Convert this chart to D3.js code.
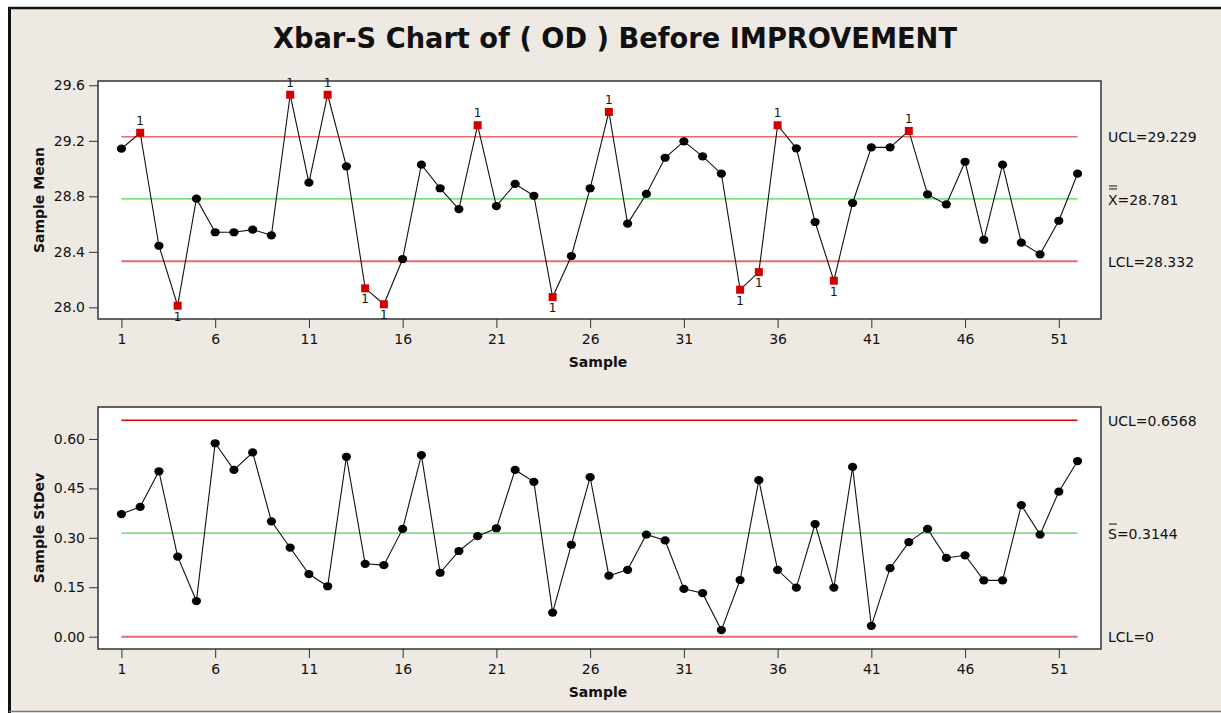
<!DOCTYPE html>
<html>
<head>
<meta charset="utf-8">
<script src="https://cdn.jsdelivr.net/npm/d3@7"></script>
<style>
  body { margin: 0; background: #fff; }
  text { font-family: "DejaVu Sans", Verdana, sans-serif; fill: #111; }
</style>
</head>
<body>
<svg width="1221" height="713"></svg>
<script>
// sample means (Xbar) and standard deviations (S), samples 1..52
var samples = d3.range(1, 53);
var means = [29.143, 29.258, 28.444, 28.012, 28.783, 28.541, 28.541, 28.560, 28.519, 29.532,
             28.898, 29.532, 29.016, 28.137, 28.022, 28.348, 29.028, 28.858, 28.708, 29.312,
             28.730, 28.889, 28.804, 28.074, 28.370, 28.858, 29.408, 28.603, 28.817, 29.078,
             29.196, 29.088, 28.963, 28.127, 28.254, 29.312, 29.146, 28.615, 28.192, 28.752,
             29.153, 29.153, 29.271, 28.814, 28.742, 29.049, 28.487, 29.028, 28.466, 28.382,
             28.624, 28.963];
var stdevs = [0.372, 0.394, 0.502, 0.243, 0.108, 0.587, 0.506, 0.559, 0.350, 0.270,
              0.190, 0.153, 0.546, 0.221, 0.217, 0.327, 0.551, 0.194, 0.260, 0.305,
              0.329, 0.506, 0.470, 0.073, 0.279, 0.484, 0.185, 0.203, 0.310, 0.292,
              0.145, 0.132, 0.020, 0.172, 0.475, 0.203, 0.149, 0.342, 0.149, 0.515,
              0.033, 0.208, 0.287, 0.327, 0.239, 0.247, 0.171, 0.171, 0.399, 0.310,
              0.440, 0.533];

var meanLimits = {ucl: 29.229, cl: 28.781, lcl: 28.332};
var sdLimits = {ucl: 0.6568, cl: 0.3144, lcl: 0};

var xTicks = [1, 6, 11, 16, 21, 26, 31, 36, 41, 46, 51];
var meanTicks = [28.0, 28.4, 28.8, 29.2, 29.6];
var sdTicks = [0.00, 0.15, 0.30, 0.45, 0.60];

var svg = d3.select("svg");

// frame
svg.append("rect").attr("x", 9).attr("y", 8).attr("width", 1212).attr("height", 703)
  .attr("fill", "#eee9e3");
svg.append("line").attr("x1", 8).attr("x2", 1221).attr("y1", 8).attr("y2", 8)
  .attr("stroke", "#111").attr("stroke-width", 2.5);
svg.append("line").attr("x1", 9.5).attr("x2", 9.5).attr("y1", 7).attr("y2", 713)
  .attr("stroke", "#111").attr("stroke-width", 3);
svg.append("line").attr("x1", 9).attr("x2", 1221).attr("y1", 711.5).attr("y2", 711.5)
  .attr("stroke", "#777").attr("stroke-width", 1.5);

svg.append("text")
  .attr("x", 615).attr("y", 48)
  .attr("text-anchor", "middle")
  .attr("font-size", 28).attr("font-weight", "bold")
  .attr("textLength", 684).attr("lengthAdjust", "spacingAndGlyphs")
  .text("Xbar-S Chart of ( OD ) Before IMPROVEMENT");

var x = d3.scaleLinear().domain([-0.25, 53.25]).range([98, 1101]);

function panel(opts) {
  var y = d3.scaleLinear().domain(opts.domain).range([opts.bottom, opts.top]);
  var g = svg.append("g");

  g.append("rect")
    .attr("x", x.range()[0]).attr("y", opts.top)
    .attr("width", x.range()[1] - x.range()[0]).attr("height", opts.bottom - opts.top)
    .attr("fill", "#fff").attr("stroke", "#333").attr("stroke-width", 1.5);

  // control lines
  var x0 = x(1), x1 = x(52);
  g.append("line").attr("x1", x0).attr("x2", x1)
    .attr("y1", y(opts.limits.ucl)).attr("y2", y(opts.limits.ucl))
    .attr("stroke", opts.uclColor).attr("stroke-width", 1.6);
  g.append("line").attr("x1", x0).attr("x2", x1)
    .attr("y1", y(opts.limits.cl)).attr("y2", y(opts.limits.cl))
    .attr("stroke", "#4fd24f").attr("stroke-width", 1.3);
  g.append("line").attr("x1", x0).attr("x2", x1)
    .attr("y1", y(opts.limits.lcl)).attr("y2", y(opts.limits.lcl))
    .attr("stroke", "#e86a6c").attr("stroke-width", 2);

  var pts = samples.map(function(s, i) {
    var v = opts.values[i];
    return {s: s, v: v, hi: v > opts.limits.ucl, lo: v < opts.limits.lcl};
  });

  g.append("path")
    .datum(pts)
    .attr("fill", "none").attr("stroke", "#111").attr("stroke-width", 1.1)
    .attr("d", d3.line().x(function(d) { return x(d.s); }).y(function(d) { return y(d.v); }));

  g.selectAll(".dot")
    .data(pts.filter(function(d) { return !d.hi && !d.lo; }))
    .enter().append("ellipse")
    .attr("cx", function(d) { return x(d.s); })
    .attr("cy", function(d) { return y(d.v); })
    .attr("rx", 4.6).attr("ry", 4.1)
    .attr("fill", "#000");

  var bad = pts.filter(function(d) { return d.hi || d.lo; });
  g.selectAll(".bad")
    .data(bad)
    .enter().append("rect")
    .attr("x", function(d) { return x(d.s) - 4; })
    .attr("y", function(d) { return y(d.v) - 4; })
    .attr("width", 8).attr("height", 8)
    .attr("fill", "#d40000");
  g.selectAll(".flag")
    .data(bad)
    .enter().append("text")
    .attr("x", function(d) { return x(d.s); })
    .attr("y", function(d) { return d.hi ? y(d.v) - 8 : y(d.v) + 15; })
    .attr("text-anchor", "middle")
    .attr("font-size", 12)
    .text("1");

  // axes
  var xAxis = g.append("g")
    .attr("transform", "translate(0," + opts.bottom + ")")
    .call(d3.axisBottom(x).tickValues(xTicks).tickSize(9).tickPadding(6).tickFormat(d3.format("d")));
  xAxis.select(".domain").remove();
  xAxis.selectAll("text").attr("font-size", 14).attr("font-family", null);

  var yAxis = g.append("g")
    .attr("transform", "translate(" + x.range()[0] + ",0)")
    .call(d3.axisLeft(y).tickValues(opts.ticks).tickSize(9).tickPadding(4).tickFormat(opts.fmt));
  yAxis.select(".domain").remove();
  yAxis.selectAll("text").attr("font-size", 14).attr("font-family", null);
  g.selectAll(".tick line").attr("stroke", "#333");

  g.append("text")
    .attr("x", 598).attr("y", opts.bottom + 48)
    .attr("text-anchor", "middle")
    .attr("font-size", 14).attr("font-weight", "bold")
    .text("Sample");

  g.append("text")
    .attr("transform", "translate(44," + (opts.top + opts.bottom) / 2 + ") rotate(-90)")
    .attr("text-anchor", "middle")
    .attr("font-size", 14).attr("font-weight", "bold")
    .text(opts.ylabel);

  // limit labels on the right
  var lx = 1108;
  g.append("text").attr("x", lx).attr("y", y(opts.limits.ucl)).attr("dy", "0.4em")
    .attr("font-size", 14).text(opts.uclText);
  g.append("text").attr("x", lx).attr("y", y(opts.limits.lcl)).attr("dy", "0.4em")
    .attr("font-size", 14).text(opts.lclText);
  g.append("text").attr("x", lx).attr("y", y(opts.limits.cl)).attr("dy", "0.4em")
    .attr("font-size", 14).text(opts.clText);

  // bars over the centre line symbol
  var cy = y(opts.limits.cl);
  opts.bars.forEach(function(off) {
    g.append("line")
      .attr("x1", lx + 1).attr("x2", lx + 9)
      .attr("y1", cy + off).attr("y2", cy + off)
      .attr("stroke", "#111").attr("stroke-width", 1);
  });
}

panel({
  top: 81, bottom: 319,
  domain: [27.916, 29.631],
  values: means, limits: meanLimits,
  ticks: meanTicks, fmt: d3.format(".1f"),
  ylabel: "Sample Mean",
  uclColor: "#e86a6c",
  uclText: "UCL=29.229", clText: "X=28.781", lclText: "LCL=28.332",
  bars: [-13, -10]
});

panel({
  top: 407, bottom: 649,
  domain: [-0.0374, 0.697],
  values: stdevs, limits: sdLimits,
  ticks: sdTicks, fmt: d3.format(".2f"),
  ylabel: "Sample StDev",
  uclColor: "#e00000",
  uclText: "UCL=0.6568", clText: "S=0.3144", lclText: "LCL=0",
  bars: [-9]
});
</script>
</body>
</html>
